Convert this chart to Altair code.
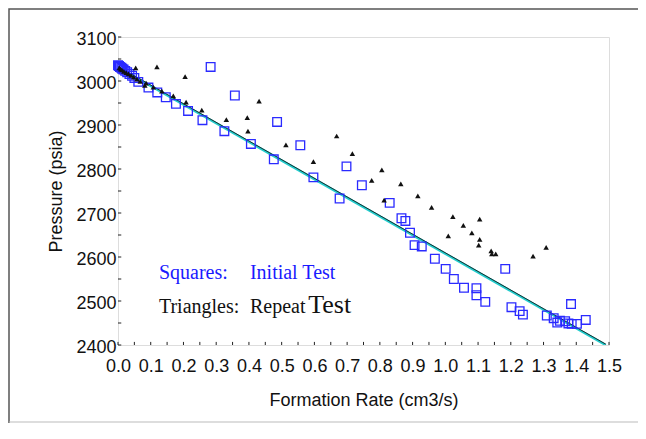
import altair as alt
import pandas as pd

# ---- data ----
sq_x = [0.0, 0.003, 0.006, 0.010, 0.013, 0.017, 0.022, 0.028, 0.035, 0.043, 0.050,
        0.062, 0.093, 0.120, 0.146, 0.177, 0.214, 0.258, 0.283, 0.325, 0.357, 0.406,
        0.476, 0.486, 0.557, 0.597, 0.677, 0.698, 0.745, 0.830, 0.866, 0.878, 0.892,
        0.906, 0.928, 0.968, 1.001, 1.026, 1.057, 1.095, 1.095, 1.122, 1.183, 1.202,
        1.227, 1.237, 1.310, 1.331, 1.342, 1.350, 1.366, 1.376, 1.384, 1.386, 1.402, 1.429]
sq_p = [3036, 3034, 3032, 3030, 3028, 3026, 3023, 3020, 3016, 3012, 3007,
        2998, 2985, 2974, 2963, 2948, 2932, 2911, 3032, 2886, 2967, 2857,
        2822, 2907, 2854, 2781, 2733, 2806, 2763, 2723, 2688, 2682, 2655,
        2627, 2624, 2596, 2573, 2550, 2530, 2529, 2513, 2498, 2573, 2486,
        2477, 2469, 2467, 2461, 2451, 2455, 2454, 2449, 2493, 2448, 2448, 2457]

tr_x = [0.004, 0.008, 0.012, 0.018, 0.025, 0.032, 0.040, 0.048, 0.058, 0.068, 0.082,
        0.054, 0.086, 0.108, 0.119, 0.134, 0.169, 0.205, 0.208, 0.256, 0.331, 0.395,
        0.397, 0.431, 0.513, 0.597, 0.668, 0.716, 0.775, 0.806, 0.813, 0.864, 0.916,
        0.958, 1.009, 1.023, 1.055, 1.081, 1.102, 1.105, 1.105, 1.140, 1.142, 1.154,
        1.268, 1.308]
tr_p = [3030, 3027, 3025, 3022, 3019, 3016, 3013, 3009, 3004, 2999, 2990,
        3030, 2995, 2986, 3032, 2977, 2966, 3010, 2952, 2934, 2912, 2917,
        2886, 2954, 2855, 2817, 2875, 2835, 2774, 2798, 2729, 2766, 2739,
        2713, 2648, 2692, 2672, 2655, 2627, 2686, 2640, 2614, 2607, 2607,
        2602, 2622]

fit_x = [0.0, 1.49]
fit_p = [3031, 2400]

x_ticks = [round(i * 0.1, 1) for i in range(16)]
x_minor = [round(i * 0.05, 2) for i in range(31)]
y_ticks = list(range(2400, 3101, 100))
y_minor = list(range(2400, 3101, 50))

lab_text = ["Squares:", "Initial Test", "Triangles:", "Repeat", "Test"]
lab_x = [0.125, 0.403, 0.125, 0.403, 0.581]
lab_y = [2549, 2549, 2473, 2473, 2473]
lab_color = ["#1a1aff", "#1a1aff", "#111111", "#111111", "#111111"]
lab_size = [20, 20, 20, 20, 26]

W, H = 491, 308

sq = pd.DataFrame({"x": sq_x, "p": sq_p})
tr = pd.DataFrame({"x": tr_x, "p": tr_p})
fit = pd.DataFrame({"x": fit_x, "p": fit_p, "p2": [v + 2 for v in fit_p]})
labels = pd.DataFrame({"t": lab_text, "x": lab_x, "p": lab_y, "c": lab_color, "s": lab_size})
xm = pd.DataFrame({"x": x_minor, "y0": 2400, "y1": 2407})
ym = pd.DataFrame({"p": y_minor, "x0": 0.0, "x1": 0.01})

xs = alt.Scale(domain=[0, 1.5], nice=False, zero=False)
ys = alt.Scale(domain=[2400, 3100], nice=False, zero=False)

xaxis = alt.Axis(values=x_ticks, format=".1f", tickSize=0, domain=False, grid=False,
                 labelOverlap=False, labelBound=False, labelFlush=False,
                 labelFont="Liberation Sans", labelFontSize=18, labelColor="#111",
                 labelPadding=12, title="Formation Rate (cm3/s)",
                 titleFont="Liberation Sans", titleFontSize=18, titleFontWeight="normal",
                 titleColor="#111", titleY=55, titleBaseline="middle")
yaxis = alt.Axis(values=y_ticks, format="d", tickSize=0, domain=False, grid=False,
                 labelOverlap=False, labelBound=False, labelFlush=False,
                 labelFont="Liberation Sans", labelFontSize=18, labelColor="#111",
                 labelPadding=2, labelOffset=2, title="Pressure (psia)",
                 titleFont="Liberation Sans", titleFontSize=18, titleFontWeight="normal",
                 titleColor="#111", titleX=-62, titleBaseline="middle", titleAlign="center")

base_x = alt.X("x:Q", scale=xs, axis=xaxis)
base_y = alt.Y("p:Q", scale=ys, axis=yaxis)

one = pd.DataFrame({"a": [0]})
frame = alt.Chart(one).mark_rect(fill=None, stroke="#555", strokeWidth=1.5).encode(
    x=alt.value(-109), x2=alt.value(560), y=alt.value(-28), y2=alt.value(420))
frame_bot = alt.Chart(one).mark_rule(color="#bbb", strokeWidth=1).encode(
    y=alt.value(385), x=alt.value(-109), x2=alt.value(560))

xtick = alt.Chart(xm).mark_rule(color="#222", strokeWidth=1).encode(
    x=base_x, y=alt.Y("y0:Q", scale=ys, axis=yaxis), y2="y1:Q")
ytick = alt.Chart(ym).mark_rule(color="#222", strokeWidth=1).encode(
    y=base_y, x=alt.X("x0:Q", scale=xs, axis=xaxis), x2="x1:Q")

line_c = alt.Chart(fit).mark_line(color="#22cccc", strokeWidth=2.5, clip=True).encode(x=base_x, y=base_y)
line_k = alt.Chart(fit).mark_line(color="#1a3030", strokeWidth=1, clip=True).encode(
    x=base_x, y=alt.Y("p2:Q", scale=ys, axis=yaxis))

squares = alt.Chart(sq).mark_point(shape="square", size=75, filled=False, color="#2a2aff",
                                   strokeWidth=1.3, opacity=1).encode(x=base_x, y=base_y)
tris = alt.Chart(tr).mark_point(shape="triangle-up", size=30, filled=True, color="#111",
                                opacity=1).encode(x=base_x, y=base_y)

texts = alt.Chart(labels).mark_text(font="Liberation Serif", align="left",
                                    baseline="alphabetic").encode(
    x=base_x, y=base_y, text="t:N",
    color=alt.Color("c:N", scale=None), size=alt.Size("s:Q", scale=None))

chart = alt.layer(frame, frame_bot, xtick, ytick, line_c, line_k, squares, tris, texts).properties(
    width=W, height=H,
    autosize=alt.AutoSizeParams(type="none"),
    padding={"left": 110, "top": 29, "right": 29, "bottom": 78},
).configure_view(stroke="#333", strokeWidth=1.5).configure_axis(
    labelOverlap=False
).configure(background="white")

chart.save("out.html", embed_options={"renderer": "svg", "actions": False})
